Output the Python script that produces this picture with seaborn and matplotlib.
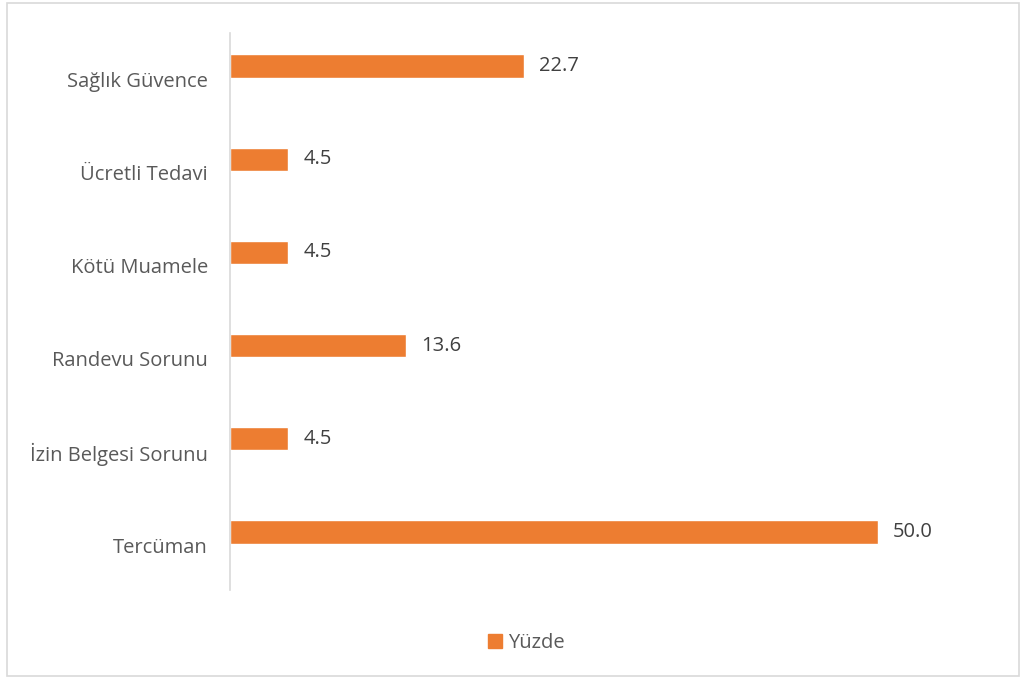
import matplotlib
matplotlib.use('Agg')
import matplotlib.pyplot as plt
import seaborn as sns
import pandas as pd
from matplotlib.patches import Rectangle, Patch

# datos
categorias = ['Sağlık Güvence', 'Ücretli Tedavi', 'Kötü Muamele',
              'Randevu Sorunu', 'İzin Belgesi Sorunu', 'Tercüman']
yuzde = [22.7, 4.5, 4.5, 13.6, 4.5, 50.0]

df = pd.DataFrame({'kategori': categorias, 'yuzde': yuzde})

sns.set_style('white')
plt.rcParams['font.family'] = ['Open Sans', 'DejaVu Sans']

naranja = '#ED7D31'
gris = '#595959'
tam = 14.5

fig = plt.figure(figsize=(10.26, 6.79), dpi=100)
ax = fig.add_axes([0.2242, 0.1311, 0.7573, 0.8203])

sns.barplot(data=df, y='kategori', x='yuzde', orient='h', color=naranja,
            width=0.25, saturation=1, ax=ax)

ax.set_xlim(0, 60)
ax.set_ylim(5.622, -0.354)
ax.set_xlabel('')
ax.set_ylabel('')
ax.set_xticks([])
# etiquetas de categoria un poco por debajo de la barra, como en el original
ax.set_yticks([i + 0.14 for i in range(len(categorias))], categorias)
ax.tick_params(axis='y', length=0, pad=16, labelsize=tam, labelcolor=gris)

for s in ['top', 'right', 'bottom']:
    ax.spines[s].set_visible(False)
ax.spines['left'].set_color('#D9D9D9')
ax.spines['left'].set_linewidth(1.2)

ax.bar_label(ax.containers[0], fmt='%.1f', padding=11, fontsize=tam, color='#404040')

fig.legend(handles=[Patch(color=naranja, label='Yüzde')], loc='center',
           bbox_to_anchor=(0.513, 0.053), frameon=False, fontsize=tam,
           handlelength=0.7, handleheight=0.7, handletextpad=0.3,
           labelcolor=gris)

fig.patches.append(Rectangle((0.007, 0.005), 0.986, 0.99, transform=fig.transFigure,
                             fill=False, edgecolor='#D9D9D9', linewidth=1.2))

fig.savefig('out.png', dpi=100)
